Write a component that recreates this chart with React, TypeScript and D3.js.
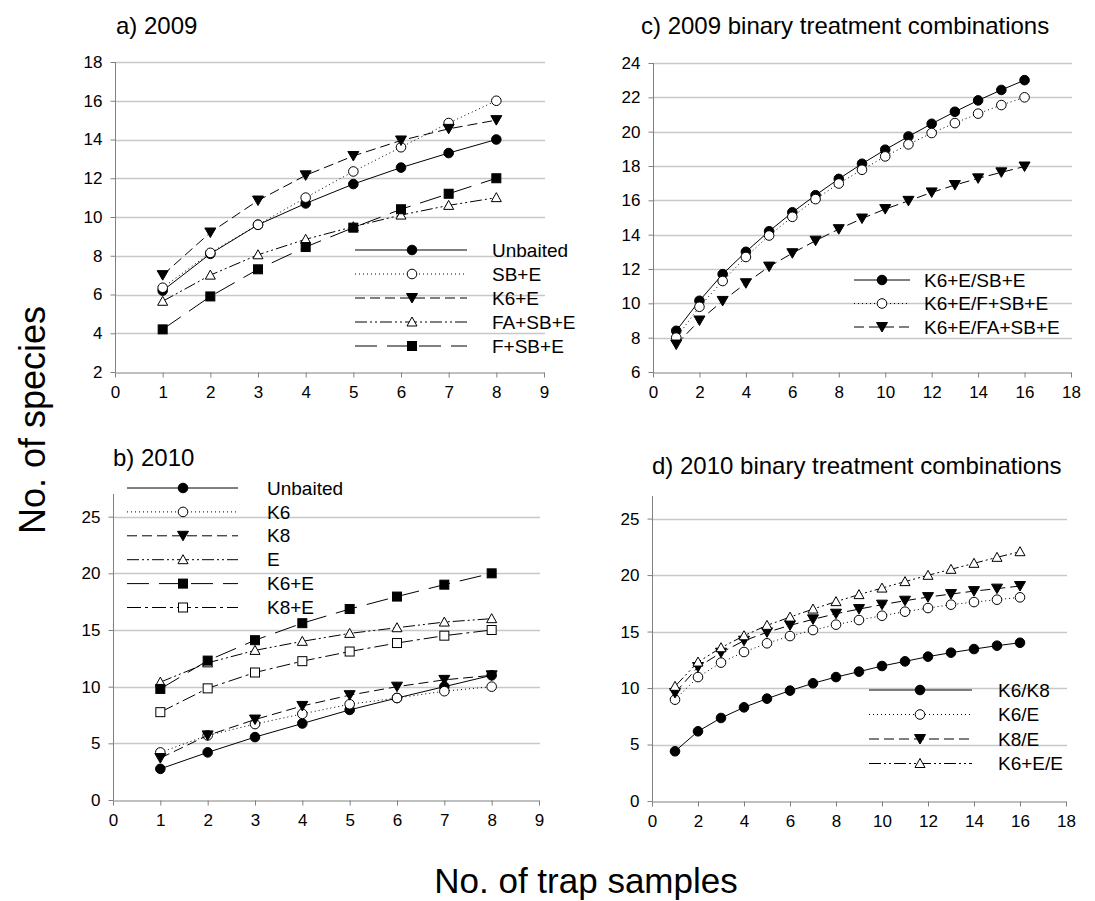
import React, { useEffect, useRef } from 'react';
import * as d3 from 'd3';

// sample counts
const samples8 = [1, 2, 3, 4, 5, 6, 7, 8];
const samples16 = [1, 2, 3, 4, 5, 6, 7, 8, 9, 10, 11, 12, 13, 14, 15, 16];

// tick labels
const xTicks9 = [0, 1, 2, 3, 4, 5, 6, 7, 8, 9];
const xTicks18 = [0, 2, 4, 6, 8, 10, 12, 14, 16, 18];
const yTicksA = [2, 4, 6, 8, 10, 12, 14, 16, 18];
const yTicksB = [0, 5, 10, 15, 20, 25];
const yTicksC = [6, 8, 10, 12, 14, 16, 18, 20, 22, 24];

// a) 2009
const a2009Unbaited = [6.2, 8.1, 9.6, 10.7, 11.7, 12.55, 13.3, 14.0];
const a2009SBE = [6.35, 8.15, 9.6, 11.0, 12.35, 13.6, 14.85, 16.0];
const a2009K6E = [7.0, 9.2, 10.85, 12.15, 13.15, 13.95, 14.55, 15.0];
const a2009FASBE = [5.65, 7.0, 8.05, 8.85, 9.5, 10.1, 10.6, 11.0];
const a2009FSBE = [4.2, 5.9, 7.3, 8.45, 9.45, 10.4, 11.2, 12.0];

// b) 2010
const b2010Unbaited = [2.75, 4.2, 5.55, 6.75, 7.95, 9.0, 10.0, 11.0];
const b2010K6 = [4.2, 5.7, 6.7, 7.6, 8.45, 9.0, 9.6, 10.0];
const b2010K8 = [3.7, 5.7, 7.1, 8.3, 9.25, 10.0, 10.6, 11.0];
const b2010E = [10.4, 12.1, 13.2, 14.0, 14.7, 15.2, 15.7, 16.0];
const b2010K6E = [9.8, 12.3, 14.1, 15.6, 16.85, 17.95, 19.0, 20.0];
const b2010K8E = [7.75, 9.85, 11.25, 12.25, 13.1, 13.85, 14.5, 15.0];

// c) 2009 binary
const cK6E_SBE = [8.4, 10.15, 11.7, 13.0, 14.2, 15.3, 16.3, 17.25, 18.13, 18.95, 19.72, 20.46, 21.16, 21.82, 22.43, 23.0];
const cK6E_FSBE = [8.0, 9.8, 11.3, 12.7, 13.95, 15.04, 16.07, 16.98, 17.78, 18.56, 19.26, 19.92, 20.5, 21.05, 21.55, 22.0];
const cK6E_FASBE = [7.6, 9.0, 10.14, 11.17, 12.14, 12.92, 13.65, 14.32, 14.94, 15.49, 15.97, 16.46, 16.89, 17.28, 17.63, 17.97];

// d) 2010 binary
const dK6_K8 = [4.4, 6.17, 7.35, 8.29, 9.06, 9.77, 10.42, 10.97, 11.45, 11.95, 12.36, 12.78, 13.13, 13.45, 13.75, 14.01];
const dK6_E = [8.97, 10.97, 12.25, 13.19, 13.96, 14.6, 15.13, 15.61, 16.02, 16.4, 16.76, 17.08, 17.38, 17.61, 17.82, 18.03];
const dK8_E = [9.56, 11.86, 13.13, 14.19, 14.93, 15.55, 16.08, 16.58, 16.99, 17.38, 17.73, 18.05, 18.32, 18.58, 18.8, 19.03];
const dK6E_E = [10.15, 12.3, 13.57, 14.63, 15.55, 16.28, 16.99, 17.65, 18.27, 18.85, 19.42, 19.98, 20.51, 21.04, 21.57, 22.07];

const FONT = 'Arial, "Liberation Sans", sans-serif';

const DASH = {
  solid: null,
  dot: '1,3',
  dash: '10,5',
  dashDotDot: '12,3,2,3,2,3',
  longDash: '22,10',
  dashDot: '14,4,3,4',
};

const panels = [
  {
    title: 'a) 2009', titleX: 116, titleY: 34,
    xDomain: [0, 9], xRange: [115, 544], yDomain: [2, 18], yRange: [372, 62], axisTop: 62,
    xTicks: xTicks9, yTicks: yTicksA, xs: samples8,
    legend: { x1: 355, x2: 467, mx: 412, tx: 492, y0: 250, dy: 24 },
    series: [
      { name: 'Unbaited', values: a2009Unbaited, dash: DASH.solid, marker: 'circle', fill: true },
      { name: 'SB+E', values: a2009SBE, dash: DASH.dot, marker: 'circle', fill: false },
      { name: 'K6+E', values: a2009K6E, dash: DASH.dash, marker: 'triDown', fill: true },
      { name: 'FA+SB+E', values: a2009FASBE, dash: DASH.dashDotDot, marker: 'triUp', fill: false },
      { name: 'F+SB+E', values: a2009FSBE, dash: DASH.longDash, marker: 'square', fill: true },
    ],
  },
  {
    title: 'b) 2010', titleX: 113, titleY: 466,
    xDomain: [0, 9], xRange: [113, 539], yDomain: [0, 27], yRange: [800, 494], axisTop: 494,
    xTicks: xTicks9, yTicks: yTicksB, xs: samples8,
    legend: { x1: 127, x2: 238, mx: 183, tx: 267, y0: 488, dy: 23.9 },
    series: [
      { name: 'Unbaited', values: b2010Unbaited, dash: DASH.solid, marker: 'circle', fill: true },
      { name: 'K6', values: b2010K6, dash: DASH.dot, marker: 'circle', fill: false },
      { name: 'K8', values: b2010K8, dash: DASH.dash, marker: 'triDown', fill: true },
      { name: 'E', values: b2010E, dash: DASH.dashDotDot, marker: 'triUp', fill: false },
      { name: 'K6+E', values: b2010K6E, dash: DASH.longDash, marker: 'square', fill: true },
      { name: 'K8+E', values: b2010K8E, dash: DASH.dashDot, marker: 'square', fill: false },
    ],
  },
  {
    title: 'c) 2009 binary treatment combinations', titleX: 641, titleY: 34,
    xDomain: [0, 18], xRange: [653, 1071], yDomain: [6, 24], yRange: [372, 63], axisTop: 63,
    xTicks: xTicks18, yTicks: yTicksC, xs: samples16,
    legend: { x1: 854, x2: 910, mx: 882, tx: 924, y0: 280, dy: 23.5 },
    series: [
      { name: 'K6+E/SB+E', values: cK6E_SBE, dash: DASH.solid, marker: 'circle', fill: true },
      { name: 'K6+E/F+SB+E', values: cK6E_FSBE, dash: DASH.dot, marker: 'circle', fill: false },
      { name: 'K6+E/FA+SB+E', values: cK6E_FASBE, dash: DASH.dash, marker: 'triDown', fill: true },
    ],
  },
  {
    title: 'd) 2010 binary treatment combinations', titleX: 652, titleY: 474,
    xDomain: [0, 18], xRange: [652, 1066], yDomain: [0, 27], yRange: [801, 496], axisTop: 496,
    xTicks: xTicks18, yTicks: yTicksB, xs: samples16,
    legend: { x1: 869, x2: 972, mx: 920, tx: 998, y0: 690, dy: 24.5 },
    series: [
      { name: 'K6/K8', values: dK6_K8, dash: DASH.solid, marker: 'circle', fill: true },
      { name: 'K6/E', values: dK6_E, dash: DASH.dot, marker: 'circle', fill: false },
      { name: 'K8/E', values: dK8_E, dash: DASH.dash, marker: 'triDown', fill: true },
      { name: 'K6+E/E', values: dK6E_E, dash: DASH.dashDotDot, marker: 'triUp', fill: false },
    ],
  },
];

const drawMarker = (g, type, fill, x, y) => {
  const f = fill ? '#000' : '#fff';
  if (type === 'circle') {
    g.append('circle').attr('cx', x).attr('cy', y).attr('r', 4.8)
      .attr('fill', f).attr('stroke', '#000').attr('stroke-width', 1);
  } else if (type === 'square') {
    g.append('rect').attr('x', x - 4.5).attr('y', y - 4.5).attr('width', 9).attr('height', 9)
      .attr('fill', f).attr('stroke', '#000').attr('stroke-width', 1);
  } else if (type === 'triDown') {
    g.append('path').attr('d', `M${x - 5.5},${y - 4.5}L${x + 5.5},${y - 4.5}L${x},${y + 5}Z`)
      .attr('fill', f).attr('stroke', '#000').attr('stroke-width', 1);
  } else {
    g.append('path').attr('d', `M${x - 5},${y + 4}L${x + 5},${y + 4}L${x},${y - 5}Z`)
      .attr('fill', f).attr('stroke', '#000').attr('stroke-width', 1);
  }
};

const App = () => {
  const ref = useRef(null);

  useEffect(() => {
    const svg = d3.select(ref.current);
    svg.selectAll('*').remove();

    panels.forEach((p) => {
      const x = d3.scaleLinear().domain(p.xDomain).range(p.xRange);
      const y = d3.scaleLinear().domain(p.yDomain).range(p.yRange);
      const g = svg.append('g');
      const x0 = p.xRange[0];
      const x1 = p.xRange[1];
      const yb = p.yRange[0];

      // gridlines
      g.selectAll('.grid')
        .data(p.yTicks.filter((t) => t !== p.yDomain[0]))
        .enter()
        .append('line')
        .attr('x1', x0).attr('x2', x1 + 1)
        .attr('y1', (d) => Math.round(y(d)) + 0.5).attr('y2', (d) => Math.round(y(d)) + 0.5)
        .attr('stroke', '#c8c8c8').attr('stroke-width', 1.3);

      // axes
      const axisX = g.append('g').attr('transform', `translate(0,${Math.round(yb) + 0.5})`)
        .call(d3.axisBottom(x).tickValues(p.xTicks).tickSize(5).tickPadding(8).tickSizeOuter(0));
      const axisY = g.append('g').attr('transform', `translate(${Math.round(x0) + 0.5},0)`)
        .call(d3.axisLeft(y).tickValues(p.yTicks).tickSize(5).tickPadding(8).tickSizeOuter(0));
      [axisX, axisY].forEach((a) => {
        a.selectAll('path,line').attr('stroke', '#808080');
        a.selectAll('text').attr('font-family', FONT).attr('font-size', 17).attr('fill', '#000');
      });
      axisY.select('.domain').attr('d', `M0,${p.yRange[0]}V${p.axisTop}`);

      // series
      p.series.forEach((s) => {
        const pts = p.xs.map((v, i) => [x(v), y(s.values[i])]);
        const line = d3.line();
        g.append('path').attr('d', line(pts)).attr('fill', 'none')
          .attr('stroke', '#000').attr('stroke-width', 1)
          .attr('stroke-dasharray', s.dash);
        pts.forEach(([px, py]) => drawMarker(g, s.marker, s.fill, px, py));
      });

      // legend
      const L = p.legend;
      p.series.forEach((s, i) => {
        const ly = L.y0 + i * L.dy;
        g.append('line').attr('x1', L.x1).attr('x2', L.x2).attr('y1', ly).attr('y2', ly)
          .attr('stroke', '#000').attr('stroke-width', 1).attr('stroke-dasharray', s.dash);
        drawMarker(g, s.marker, s.fill, L.mx, ly);
        g.append('text').attr('x', L.tx).attr('y', ly).attr('dy', '0.35em')
          .attr('font-family', FONT).attr('font-size', 19).text(s.name);
      });

      // title
      g.append('text').attr('x', p.titleX).attr('y', p.titleY)
        .attr('font-family', FONT).attr('font-size', 24).text(p.title);
    });

    svg.append('text').attr('transform', 'translate(45,420) rotate(-90)')
      .attr('text-anchor', 'middle').attr('font-family', FONT).attr('font-size', 36)
      .text('No. of species');
    svg.append('text').attr('x', 586).attr('y', 893)
      .attr('text-anchor', 'middle').attr('font-family', FONT).attr('font-size', 35)
      .text('No. of trap samples');
  }, []);

  return (
    <div style={{ position: 'absolute', left: 0, top: 0, width: 1095, height: 901, background: '#fff' }}>
      <svg ref={ref} width={1095} height={901} style={{ display: 'block' }} />
    </div>
  );
};

export default App;
